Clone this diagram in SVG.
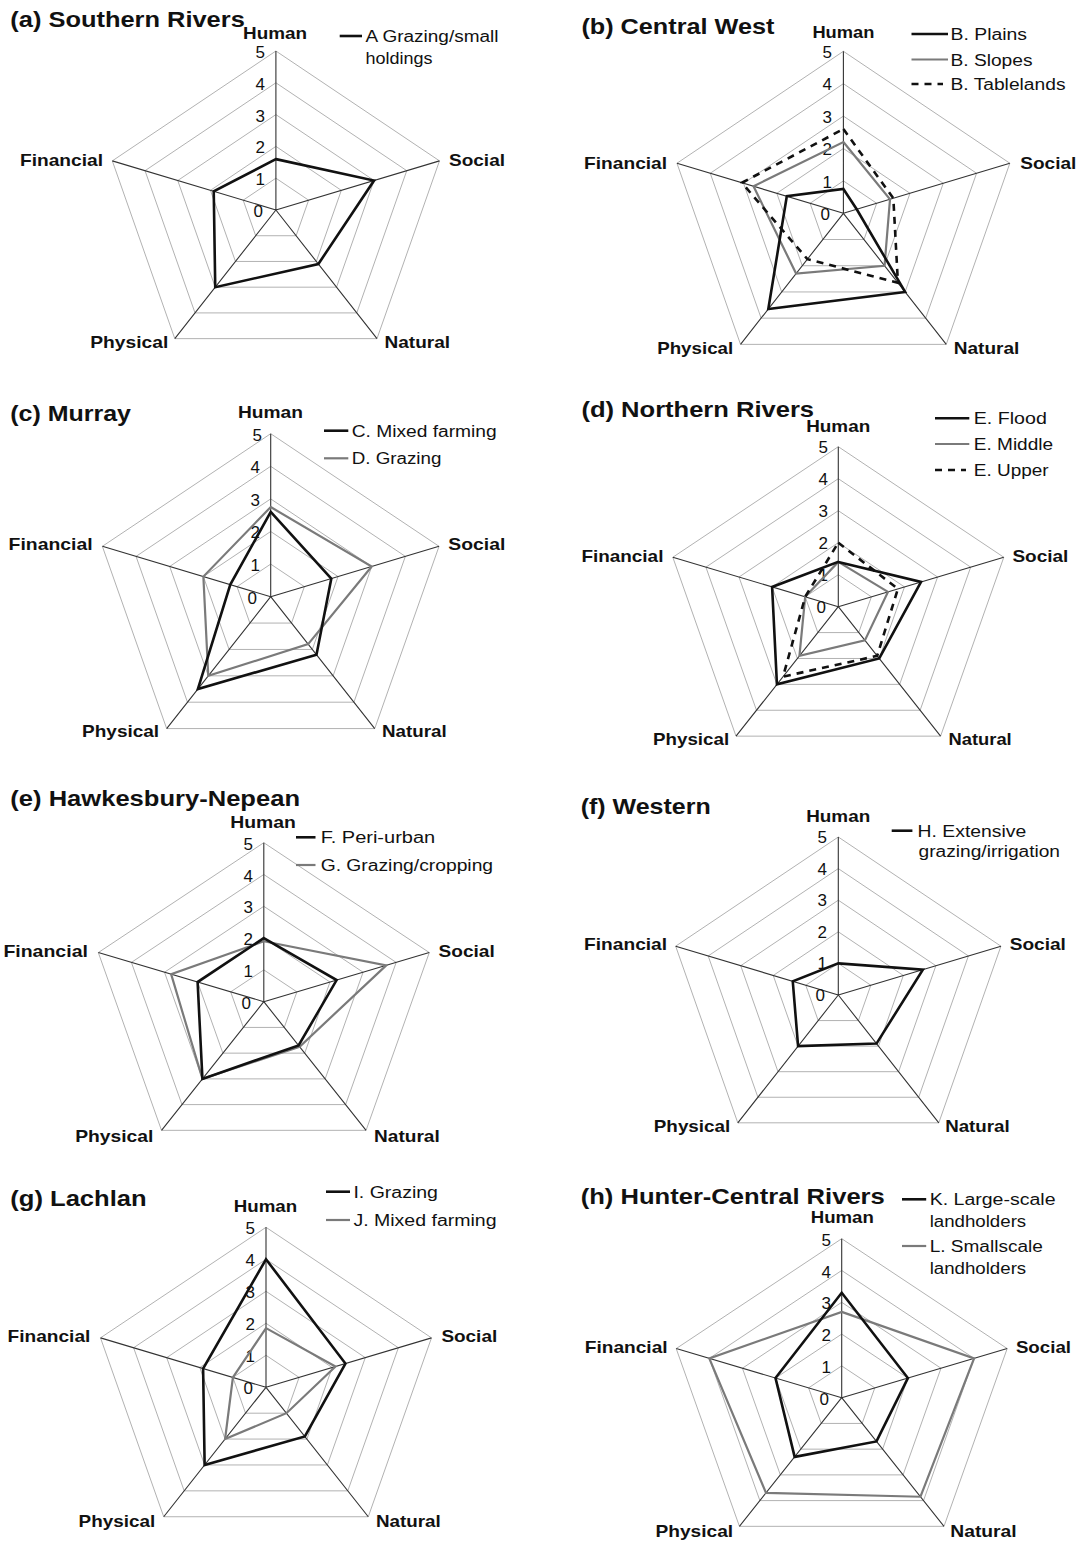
<svg xmlns="http://www.w3.org/2000/svg" xmlns:xlink="http://www.w3.org/1999/xlink" width="1081" height="1545" viewBox="0 0 1081 1545">
<style>
.t{font-family:"Liberation Sans",Arial,sans-serif;font-weight:bold;font-size:22px;fill:#111}
.al{font-family:"Liberation Sans",Arial,sans-serif;font-weight:bold;font-size:17px;fill:#111}
.tk{font-family:"Liberation Sans",Arial,sans-serif;font-size:17px;fill:#111;text-anchor:end}
.lg{font-family:"Liberation Sans",Arial,sans-serif;font-size:16px;fill:#111}
.k{fill:none;stroke:#111;stroke-width:2.6;vector-effect:non-scaling-stroke}
.gr{fill:none;stroke:#7a7a7a;stroke-width:2.2;vector-effect:non-scaling-stroke}
.d{fill:none;stroke:#111;stroke-width:2.6;stroke-dasharray:7 6;vector-effect:non-scaling-stroke}
.lk{stroke:#111;stroke-width:2.6}
.lgr{stroke:#7a7a7a;stroke-width:2.2}
.ld{stroke:#111;stroke-width:2.6;stroke-dasharray:7 6}
</style>
<defs>
<g id="grid">
<g fill="none" stroke="#b2b2b2" stroke-width="1" vector-effect="non-scaling-stroke">
<polygon vector-effect="non-scaling-stroke" points="0,-1 0.9511,-0.309 0.5878,0.809 -0.5878,0.809 -0.9511,-0.309"/>
<polygon vector-effect="non-scaling-stroke" points="0,-2 1.9021,-0.618 1.1756,1.618 -1.1756,1.618 -1.9021,-0.618"/>
<polygon vector-effect="non-scaling-stroke" points="0,-3 2.8532,-0.927 1.7634,2.4271 -1.7634,2.4271 -2.8532,-0.927"/>
<polygon vector-effect="non-scaling-stroke" points="0,-4 3.8042,-1.2361 2.3511,3.2361 -2.3511,3.2361 -3.8042,-1.2361"/>
<polygon vector-effect="non-scaling-stroke" points="0,-5 4.7553,-1.5451 2.9389,4.0451 -2.9389,4.0451 -4.7553,-1.5451"/>
</g>
<path vector-effect="non-scaling-stroke" fill="none" stroke="#333" stroke-width="1.1" d="M0 0L0 -5M0 0L4.7553 -1.5451M0 0L2.9389 4.0451M0 0L-2.9389 4.0451M0 0L-4.7553 -1.5451"/>
</g>
</defs>

<g id="chart-a">
<g transform="translate(275.9 210) scale(34.4 31.8)"><use href="#grid"/></g>
<g class="ticks"><text class="tk" x="265" y="57.5">5</text><text class="tk" x="265" y="89.5">4</text><text class="tk" x="265" y="121.5">3</text><text class="tk" x="265" y="152.5">2</text><text class="tk" x="265" y="184.5">1</text><text class="tk" x="263" y="216.5">0</text></g>
<g transform="translate(275.9 210) scale(34.4 31.8)">
<polygon class="k" points="0,-1.6 2.8532,-0.927 1.2344,1.6989 -1.7634,2.4271 -1.8071,-0.5871"/>
</g>
<text class="t" x="10.3" y="26.5" textLength="234.5" lengthAdjust="spacingAndGlyphs">(a) Southern Rivers</text>
<text class="al" x="243.1" y="39" textLength="64" lengthAdjust="spacingAndGlyphs">Human</text>
<text class="al" x="20" y="166" textLength="83" lengthAdjust="spacingAndGlyphs">Financial</text>
<text class="al" x="449" y="166" textLength="56" lengthAdjust="spacingAndGlyphs">Social</text>
<text class="al" x="90.3" y="347.5" textLength="78" lengthAdjust="spacingAndGlyphs">Physical</text>
<text class="al" x="384.5" y="347.5" textLength="65.5" lengthAdjust="spacingAndGlyphs">Natural</text>
<line class="lk" x1="339.7" y1="36" x2="362" y2="36"/>
<text class="lg" x="365.5" y="42" textLength="133" lengthAdjust="spacingAndGlyphs">A Grazing/small</text>
<text class="lg" x="365.5" y="63.5" textLength="67" lengthAdjust="spacingAndGlyphs">holdings</text>
</g>

<g id="chart-b">
<g transform="translate(843.4 213.3) scale(35 32.4)"><use href="#grid"/></g>
<g class="ticks"><text class="tk" x="832" y="57.5">5</text><text class="tk" x="832" y="90">4</text><text class="tk" x="832" y="122.5">3</text><text class="tk" x="832" y="154.5">2</text><text class="tk" x="832" y="187.5">1</text><text class="tk" x="830" y="220">0</text></g>
<g transform="translate(843.4 213.3) scale(35 32.4)">
<polygon class="gr" points="0,-2.2 1.3315,-0.4326 1.1756,1.618 -1.3519,1.8607 -2.568,-0.8343"/>
<polygon class="d" points="0,-2.6 1.4266,-0.4635 1.5577,2.1439 -1.0287,1.4158 -2.9009,-0.9425"/>
<polygon class="k" points="0,-0.75 0.3804,-0.1236 1.7634,2.4271 -2.1455,2.9529 -1.6169,-0.5253"/>
</g>
<text class="t" x="581.4" y="33.5" textLength="193" lengthAdjust="spacingAndGlyphs">(b) Central West</text>
<text class="al" x="812.4" y="37.5" textLength="62" lengthAdjust="spacingAndGlyphs">Human</text>
<text class="al" x="584.1" y="168.5" textLength="83" lengthAdjust="spacingAndGlyphs">Financial</text>
<text class="al" x="1020.3" y="168.5" textLength="56" lengthAdjust="spacingAndGlyphs">Social</text>
<text class="al" x="657.2" y="354" textLength="76" lengthAdjust="spacingAndGlyphs">Physical</text>
<text class="al" x="953.8" y="354" textLength="65.5" lengthAdjust="spacingAndGlyphs">Natural</text>
<line class="lk" x1="911.5" y1="34" x2="948" y2="34"/>
<line class="lgr" x1="911.5" y1="59.5" x2="948" y2="59.5"/>
<line class="ld" x1="911.5" y1="84" x2="943" y2="84"/>
<text class="lg" x="950.5" y="40" textLength="76.5" lengthAdjust="spacingAndGlyphs">B. Plains</text>
<text class="lg" x="950.5" y="65.5" textLength="82" lengthAdjust="spacingAndGlyphs">B. Slopes</text>
<text class="lg" x="950.5" y="90" textLength="115" lengthAdjust="spacingAndGlyphs">B. Tablelands</text>
</g>

<g id="chart-c">
<g transform="translate(270.7 596.7) scale(35.4 32.6)"><use href="#grid"/></g>
<g class="ticks"><text class="tk" x="262" y="440.5">5</text><text class="tk" x="260" y="473">4</text><text class="tk" x="260" y="505.5">3</text><text class="tk" x="260" y="538">2</text><text class="tk" x="260" y="570.5">1</text><text class="tk" x="257" y="603.5">0</text></g>
<g transform="translate(270.7 596.7) scale(35.4 32.6)">
<polygon class="gr" points="0,-2.75 2.8532,-0.927 1.058,1.4562 -1.7634,2.4271 -1.9021,-0.618"/>
<polygon class="k" points="0,-2.6 1.712,-0.5562 1.2932,1.7798 -2.0573,2.8315 -1.1413,-0.3708"/>
</g>
<text class="t" x="10.3" y="421" textLength="120.7" lengthAdjust="spacingAndGlyphs">(c) Murray</text>
<text class="al" x="237.9" y="418.3" textLength="65" lengthAdjust="spacingAndGlyphs">Human</text>
<text class="al" x="8.6" y="550" textLength="84" lengthAdjust="spacingAndGlyphs">Financial</text>
<text class="al" x="448.3" y="550" textLength="57" lengthAdjust="spacingAndGlyphs">Social</text>
<text class="al" x="82.1" y="737" textLength="77" lengthAdjust="spacingAndGlyphs">Physical</text>
<text class="al" x="382" y="737" textLength="64.6" lengthAdjust="spacingAndGlyphs">Natural</text>
<line class="lk" x1="324" y1="430.7" x2="348.3" y2="430.7"/>
<line class="lgr" x1="324" y1="458.3" x2="348.3" y2="458.3"/>
<text class="lg" x="351.7" y="436.5" textLength="145" lengthAdjust="spacingAndGlyphs">C. Mixed farming</text>
<text class="lg" x="351.7" y="464" textLength="89.7" lengthAdjust="spacingAndGlyphs">D. Grazing</text>
</g>

<g id="chart-d">
<g transform="translate(838.3 606.7) scale(34.8 32)"><use href="#grid"/></g>
<g class="ticks"><text class="tk" x="828" y="452.5">5</text><text class="tk" x="828" y="484.5">4</text><text class="tk" x="828" y="516.5">3</text><text class="tk" x="828" y="548.5">2</text><text class="tk" x="828" y="580.5">1</text><text class="tk" x="826" y="613">0</text></g>
<g transform="translate(838.3 606.7) scale(34.8 32)">
<polygon class="gr" points="0,-1.4 1.4266,-0.4635 0.7641,1.0517 -1.1168,1.5371 -0.9511,-0.309"/>
<polygon class="d" points="0,-2 1.712,-0.5562 1.1168,1.5371 -1.5871,2.1843 -0.9511,-0.309"/>
<polygon class="k" points="0,-1.4 2.3777,-0.7725 1.1756,1.618 -1.7634,2.4271 -1.9021,-0.618"/>
</g>
<text class="t" x="581.4" y="416.5" textLength="232.7" lengthAdjust="spacingAndGlyphs">(d) Northern Rivers</text>
<text class="al" x="806.2" y="431.7" textLength="64" lengthAdjust="spacingAndGlyphs">Human</text>
<text class="al" x="581.4" y="561.7" textLength="82" lengthAdjust="spacingAndGlyphs">Financial</text>
<text class="al" x="1012.4" y="561.7" textLength="56" lengthAdjust="spacingAndGlyphs">Social</text>
<text class="al" x="653.1" y="745" textLength="76" lengthAdjust="spacingAndGlyphs">Physical</text>
<text class="al" x="948.6" y="745" textLength="63.1" lengthAdjust="spacingAndGlyphs">Natural</text>
<line class="lk" x1="935" y1="418.3" x2="969.3" y2="418.3"/>
<line class="lgr" x1="935" y1="444" x2="969.3" y2="444"/>
<line class="ld" x1="935" y1="470" x2="966" y2="470"/>
<text class="lg" x="973.8" y="424" textLength="73" lengthAdjust="spacingAndGlyphs">E. Flood</text>
<text class="lg" x="973.8" y="450" textLength="79.3" lengthAdjust="spacingAndGlyphs">E. Middle</text>
<text class="lg" x="973.8" y="476" textLength="74.8" lengthAdjust="spacingAndGlyphs">E. Upper</text>
</g>

<g id="chart-e">
<g transform="translate(263.8 1001.7) scale(34.8 31.8)"><use href="#grid"/></g>
<g class="ticks"><text class="tk" x="253" y="849.5">5</text><text class="tk" x="253" y="881.5">4</text><text class="tk" x="253" y="913">3</text><text class="tk" x="253" y="945">2</text><text class="tk" x="253" y="976.5">1</text><text class="tk" x="251" y="1008.5">0</text></g>
<g transform="translate(263.8 1001.7) scale(34.8 31.8)">
<polygon class="gr" points="0,-1.9 3.5191,-1.1433 1.0287,1.4158 -1.7634,2.4271 -2.6631,-0.8652"/>
<polygon class="k" points="0,-2 2.0924,-0.6798 0.9993,1.3753 -1.7634,2.4271 -1.9021,-0.618"/>
</g>
<text class="t" x="10.3" y="806" textLength="289.7" lengthAdjust="spacingAndGlyphs">(e) Hawkesbury-Nepean</text>
<text class="al" x="230.3" y="827.7" textLength="65.6" lengthAdjust="spacingAndGlyphs">Human</text>
<text class="al" x="3.4" y="956.7" textLength="84.5" lengthAdjust="spacingAndGlyphs">Financial</text>
<text class="al" x="438.6" y="956.7" textLength="56.2" lengthAdjust="spacingAndGlyphs">Social</text>
<text class="al" x="75.2" y="1142" textLength="78.2" lengthAdjust="spacingAndGlyphs">Physical</text>
<text class="al" x="374.1" y="1142" textLength="65.6" lengthAdjust="spacingAndGlyphs">Natural</text>
<line class="lk" x1="296" y1="837.3" x2="315.5" y2="837.3"/>
<line class="lgr" x1="296" y1="865" x2="315.5" y2="865"/>
<text class="lg" x="320.7" y="843" textLength="114.5" lengthAdjust="spacingAndGlyphs">F. Peri-urban</text>
<text class="lg" x="320.7" y="870.5" textLength="172.4" lengthAdjust="spacingAndGlyphs">G. Grazing/cropping</text>
</g>

<g id="chart-f">
<g transform="translate(838.3 995) scale(34.2 31.6)"><use href="#grid"/></g>
<g class="ticks"><text class="tk" x="827" y="842.5">5</text><text class="tk" x="827" y="874.5">4</text><text class="tk" x="827" y="906">3</text><text class="tk" x="827" y="937.5">2</text><text class="tk" x="827" y="969">1</text><text class="tk" x="825" y="1001">0</text></g>
<g transform="translate(838.3 995) scale(34.2 31.6)">
<polygon class="k" points="0,-1 2.4729,-0.8034 1.1168,1.5371 -1.1756,1.618 -1.3315,-0.4326"/>
</g>
<text class="t" x="580.7" y="814" textLength="130" lengthAdjust="spacingAndGlyphs">(f) Western</text>
<text class="al" x="806.2" y="821.7" textLength="64" lengthAdjust="spacingAndGlyphs">Human</text>
<text class="al" x="584.1" y="950" textLength="83" lengthAdjust="spacingAndGlyphs">Financial</text>
<text class="al" x="1009.7" y="950" textLength="56.2" lengthAdjust="spacingAndGlyphs">Social</text>
<text class="al" x="653.8" y="1132" textLength="76.5" lengthAdjust="spacingAndGlyphs">Physical</text>
<text class="al" x="945.2" y="1132" textLength="64.5" lengthAdjust="spacingAndGlyphs">Natural</text>
<line class="lk" x1="891.7" y1="830.7" x2="912.4" y2="830.7"/>
<text class="lg" x="917.6" y="836.5" textLength="108.6" lengthAdjust="spacingAndGlyphs">H. Extensive</text>
<text class="lg" x="918.6" y="857" textLength="141.4" lengthAdjust="spacingAndGlyphs">grazing/irrigation</text>
</g>

<g id="chart-g">
<g transform="translate(266 1387.3) scale(34.8 32)"><use href="#grid"/></g>
<g class="ticks"><text class="tk" x="255" y="1233.5">5</text><text class="tk" x="255" y="1265.5">4</text><text class="tk" x="255" y="1297.5">3</text><text class="tk" x="255" y="1329.5">2</text><text class="tk" x="255" y="1361.5">1</text><text class="tk" x="253" y="1394">0</text></g>
<g transform="translate(266 1387.3) scale(34.8 32)">
<polygon class="gr" points="0,-1.85 1.9973,-0.6489 0.5878,0.809 -1.1756,1.618 -0.9511,-0.309"/>
<polygon class="k" points="0,-4 2.2826,-0.7416 1.1168,1.5371 -1.7634,2.4271 -1.8071,-0.5871"/>
</g>
<text class="t" x="10.3" y="1206" textLength="136.3" lengthAdjust="spacingAndGlyphs">(g) Lachlan</text>
<text class="al" x="233.8" y="1211.7" textLength="63.4" lengthAdjust="spacingAndGlyphs">Human</text>
<text class="al" x="7.6" y="1341.7" textLength="82.7" lengthAdjust="spacingAndGlyphs">Financial</text>
<text class="al" x="441.4" y="1341.7" textLength="55.8" lengthAdjust="spacingAndGlyphs">Social</text>
<text class="al" x="78.6" y="1527" textLength="76.6" lengthAdjust="spacingAndGlyphs">Physical</text>
<text class="al" x="375.9" y="1527" textLength="64.8" lengthAdjust="spacingAndGlyphs">Natural</text>
<line class="lk" x1="326" y1="1191.7" x2="350" y2="1191.7"/>
<line class="lgr" x1="326" y1="1220" x2="350" y2="1220"/>
<text class="lg" x="353.4" y="1197.5" textLength="84.5" lengthAdjust="spacingAndGlyphs">I. Grazing</text>
<text class="lg" x="353.4" y="1225.5" textLength="143.2" lengthAdjust="spacingAndGlyphs">J. Mixed farming</text>
</g>

<g id="chart-h">
<g transform="translate(841.7 1397.7) scale(34.8 31.8)"><use href="#grid"/></g>
<g class="ticks"><text class="tk" x="831" y="1245.5">5</text><text class="tk" x="831" y="1277.5">4</text><text class="tk" x="831" y="1309">3</text><text class="tk" x="831" y="1341">2</text><text class="tk" x="831" y="1372.5">1</text><text class="tk" x="829" y="1404.5">0</text></g>
<g transform="translate(841.7 1397.7) scale(34.8 31.8)">
<polygon class="gr" points="0,-2.7 3.8042,-1.2361 2.263,3.1147 -2.1749,2.9933 -3.8042,-1.2361"/>
<polygon class="k" points="0,-3.3 1.9021,-0.618 0.9993,1.3753 -1.3519,1.8607 -1.9021,-0.618"/>
</g>
<text class="t" x="580.7" y="1203.5" textLength="304.1" lengthAdjust="spacingAndGlyphs">(h) Hunter-Central Rivers</text>
<text class="al" x="810.7" y="1223.3" textLength="63.1" lengthAdjust="spacingAndGlyphs">Human</text>
<text class="al" x="584.8" y="1353.3" textLength="82.8" lengthAdjust="spacingAndGlyphs">Financial</text>
<text class="al" x="1015.9" y="1353.3" textLength="55.1" lengthAdjust="spacingAndGlyphs">Social</text>
<text class="al" x="655.5" y="1537" textLength="77.6" lengthAdjust="spacingAndGlyphs">Physical</text>
<text class="al" x="950.3" y="1537" textLength="66.3" lengthAdjust="spacingAndGlyphs">Natural</text>
<line class="lk" x1="902" y1="1199.3" x2="926.2" y2="1199.3"/>
<line class="lgr" x1="902" y1="1246" x2="926.2" y2="1246"/>
<text class="lg" x="929.7" y="1204.5" textLength="125.8" lengthAdjust="spacingAndGlyphs">K. Large-scale</text>
<text class="lg" x="929.7" y="1226.5" textLength="96.5" lengthAdjust="spacingAndGlyphs">landholders</text>
<text class="lg" x="929.7" y="1251.5" textLength="113.1" lengthAdjust="spacingAndGlyphs">L. Smallscale</text>
<text class="lg" x="929.7" y="1273.5" textLength="96.5" lengthAdjust="spacingAndGlyphs">landholders</text>
</g>
</svg>
